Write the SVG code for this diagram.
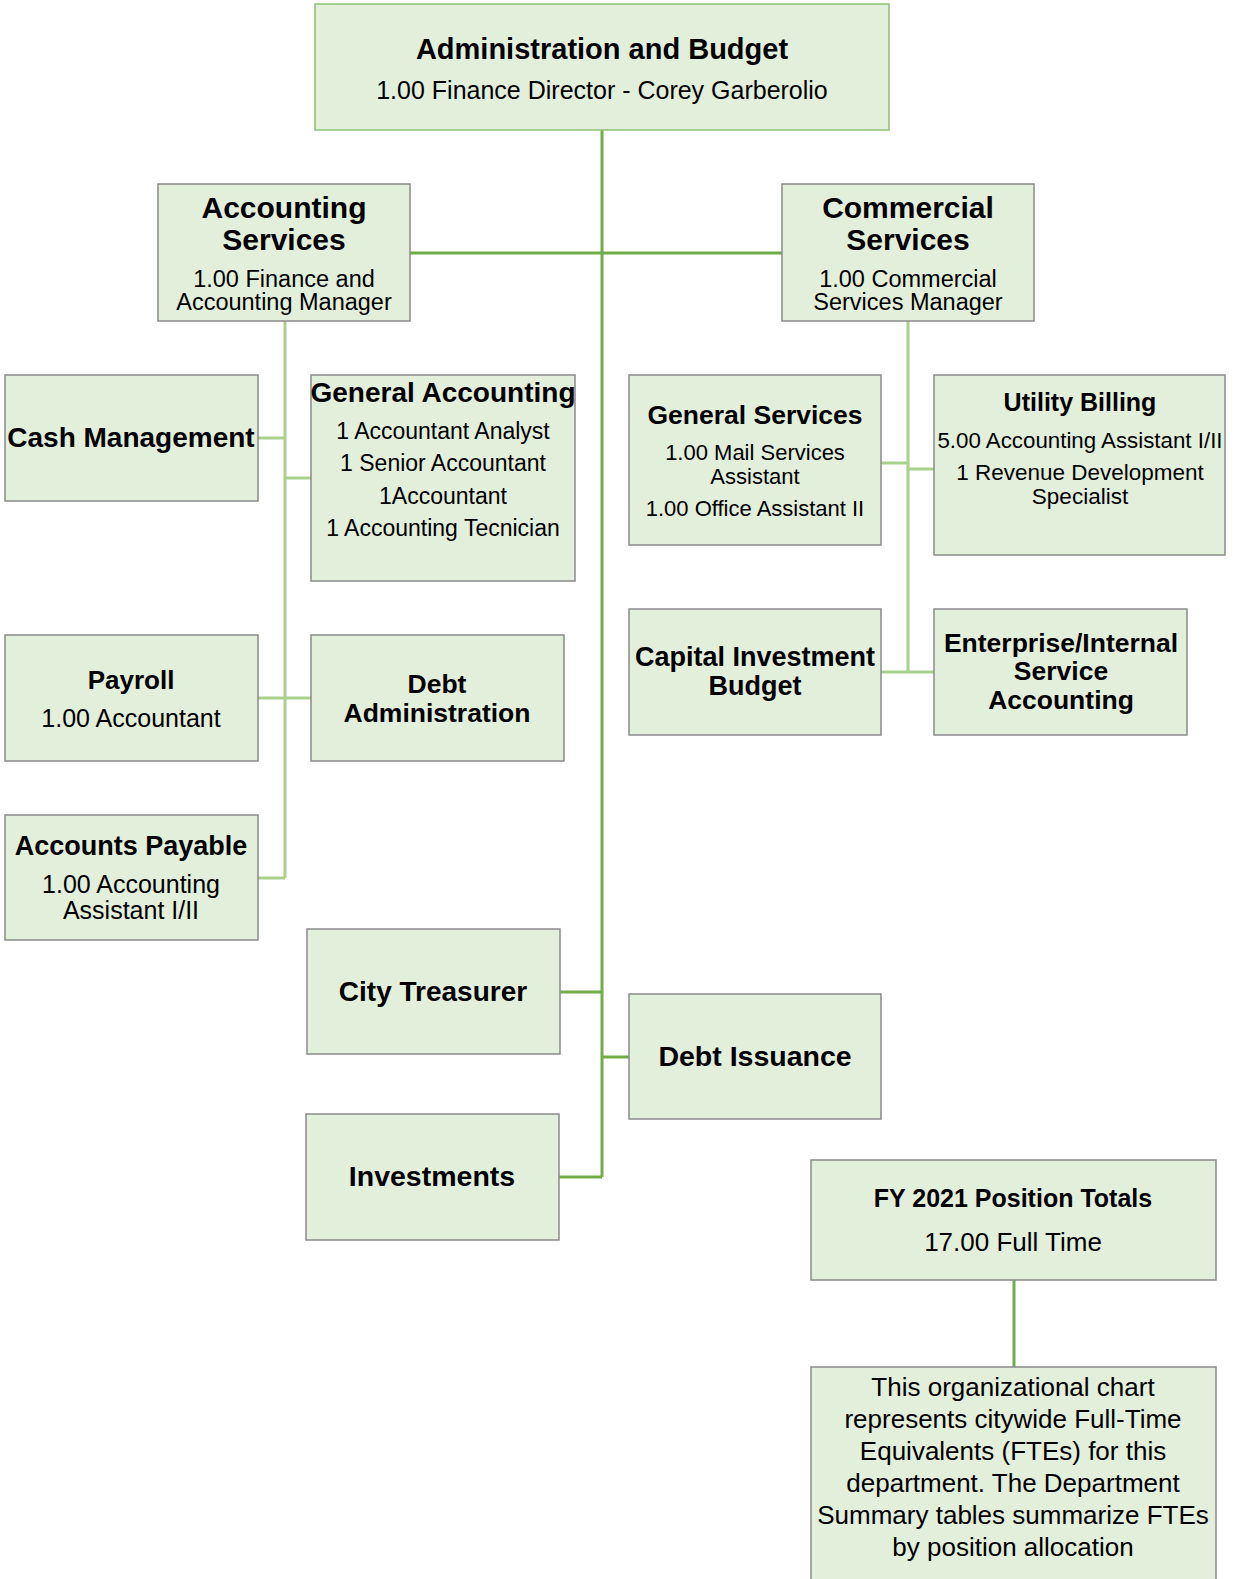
<svg xmlns="http://www.w3.org/2000/svg" width="1235" height="1579" viewBox="0 0 1235 1579">
<style>
rect.b{fill:#e2efda;stroke:#8a8a8a;stroke-width:1.5}
rect.g{fill:#e2efda;stroke:#8cc274;stroke-width:1.5}
text{font-family:"Liberation Sans",Arial,sans-serif;fill:#000;text-anchor:middle}
.t{font-weight:bold;font-size:28px}
.s{font-size:23px}
.c{font-family:"Liberation Sans",Arial,sans-serif;font-size:26px}
.main{stroke:#70ad47;stroke-width:3;fill:none}
.sub{stroke:#a9d18e;stroke-width:3;fill:none}
</style>
<g id="connectors">
<path class="main" d="M602 130V1177M410 253H782M560 992H602M602 1057H629M559 1177H602M1014 1280V1367"/>
<path class="sub" d="M285 321V878M258 438H285M285 478H311M258 698H311M258 878H285"/>
<path class="sub" d="M908 321V672M881 463H908M908 469H934M881 672H934"/>
</g>
<g id="admin">
<rect class="g" x="315" y="4" width="574" height="126"/>
<text x="602" y="59" style="font-weight:bold;font-size:29px">Administration and Budget</text>
<text x="602" y="99" style="font-size:25px">1.00 Finance Director - Corey Garberolio</text>
</g>
<g id="accounting">
<rect class="b" x="158" y="184" width="252" height="137"/>
<text x="284" y="218" style="font-weight:bold;font-size:30px">Accounting</text>
<text x="284" y="250" style="font-weight:bold;font-size:30px">Services</text>
<text x="284" y="287" style="font-size:23.5px">1.00 Finance and</text>
<text x="284" y="310" style="font-size:23.5px">Accounting Manager</text>
</g>
<g id="commercial">
<rect class="b" x="782" y="184" width="252" height="137"/>
<text x="908" y="218" style="font-weight:bold;font-size:30px">Commercial</text>
<text x="908" y="250" style="font-weight:bold;font-size:30px">Services</text>
<text x="908" y="287" style="font-size:23.5px">1.00 Commercial</text>
<text x="908" y="310" style="font-size:23.5px">Services Manager</text>
</g>
<g id="cash">
<rect class="b" x="5" y="375" width="253" height="126"/>
<text class="t" x="131" y="447">Cash Management</text>
</g>
<g id="general-accounting">
<rect class="b" x="311" y="375" width="264" height="206"/>
<text class="t" x="443" y="402">General Accounting</text>
<text class="s" x="443" y="439">1 Accountant Analyst</text>
<text class="s" x="443" y="471">1 Senior Accountant</text>
<text class="s" x="443" y="504">1Accountant</text>
<text class="s" x="443" y="536">1 Accounting Tecnician</text>
</g>
<g id="payroll">
<rect class="b" x="5" y="635" width="253" height="126"/>
<text x="131" y="689" style="font-weight:bold;font-size:26px">Payroll</text>
<text x="131" y="727" style="font-size:25px">1.00 Accountant</text>
</g>
<g id="debt-admin">
<rect class="b" x="311" y="635" width="253" height="126"/>
<text x="437" y="693" style="font-weight:bold;font-size:26.5px">Debt</text>
<text x="437" y="722" style="font-weight:bold;font-size:26.5px">Administration</text>
</g>
<g id="accounts-payable">
<rect class="b" x="5" y="815" width="253" height="125"/>
<text x="131" y="855" style="font-weight:bold;font-size:27px">Accounts Payable</text>
<text x="131" y="893" style="font-size:25px">1.00 Accounting</text>
<text x="131" y="919" style="font-size:25px">Assistant I/II</text>
</g>
<g id="general-services">
<rect class="b" x="629" y="375" width="252" height="170"/>
<text x="755" y="424" style="font-weight:bold;font-size:26.5px">General Services</text>
<text x="755" y="460" style="font-size:22px">1.00 Mail Services</text>
<text x="755" y="484" style="font-size:22px">Assistant</text>
<text x="755" y="516" style="font-size:22px">1.00 Office Assistant II</text>
</g>
<g id="utility-billing">
<rect class="b" x="934" y="375" width="291" height="180"/>
<text x="1080" y="411" style="font-weight:bold;font-size:25px">Utility Billing</text>
<text x="1080" y="448" style="font-size:22.3px">5.00 Accounting Assistant I/II</text>
<text x="1080" y="480" style="font-size:22.5px">1 Revenue Development</text>
<text x="1080" y="504" style="font-size:22.5px">Specialist</text>
</g>
<g id="capital">
<rect class="b" x="629" y="609" width="252" height="126"/>
<text x="755" y="666" style="font-weight:bold;font-size:27px">Capital Investment</text>
<text x="755" y="695" style="font-weight:bold;font-size:27px">Budget</text>
</g>
<g id="enterprise">
<rect class="b" x="934" y="609" width="253" height="126"/>
<text x="1061" y="652" style="font-weight:bold;font-size:26.5px">Enterprise/Internal</text>
<text x="1061" y="680" style="font-weight:bold;font-size:26.5px">Service</text>
<text x="1061" y="709" style="font-weight:bold;font-size:26.5px">Accounting</text>
</g>
<g id="city-treasurer">
<rect class="b" x="307" y="929" width="253" height="125"/>
<text class="t" x="433" y="1001">City Treasurer</text>
</g>
<g id="debt-issuance">
<rect class="b" x="629" y="994" width="252" height="125"/>
<text x="755" y="1066" style="font-weight:bold;font-size:28.5px">Debt Issuance</text>
</g>
<g id="investments">
<rect class="b" x="306" y="1114" width="253" height="126"/>
<text x="432" y="1186" style="font-weight:bold;font-size:28.5px">Investments</text>
</g>
<g id="totals">
<rect class="b" x="811" y="1160" width="405" height="120"/>
<text x="1013" y="1207" style="font-weight:bold;font-size:25px">FY 2021 Position Totals</text>
<text x="1013" y="1251" style="font-size:26px">17.00 Full Time</text>
</g>
<g id="note">
<rect class="b" x="811" y="1367" width="405" height="225"/>
<text class="c" x="1013" y="1396">This organizational chart</text>
<text class="c" x="1013" y="1428">represents citywide Full-Time</text>
<text class="c" x="1013" y="1460">Equivalents (FTEs) for this</text>
<text class="c" x="1013" y="1492">department. The Department</text>
<text class="c" x="1013" y="1524">Summary tables summarize FTEs</text>
<text class="c" x="1013" y="1556">by position allocation</text>
</g>
</svg>
